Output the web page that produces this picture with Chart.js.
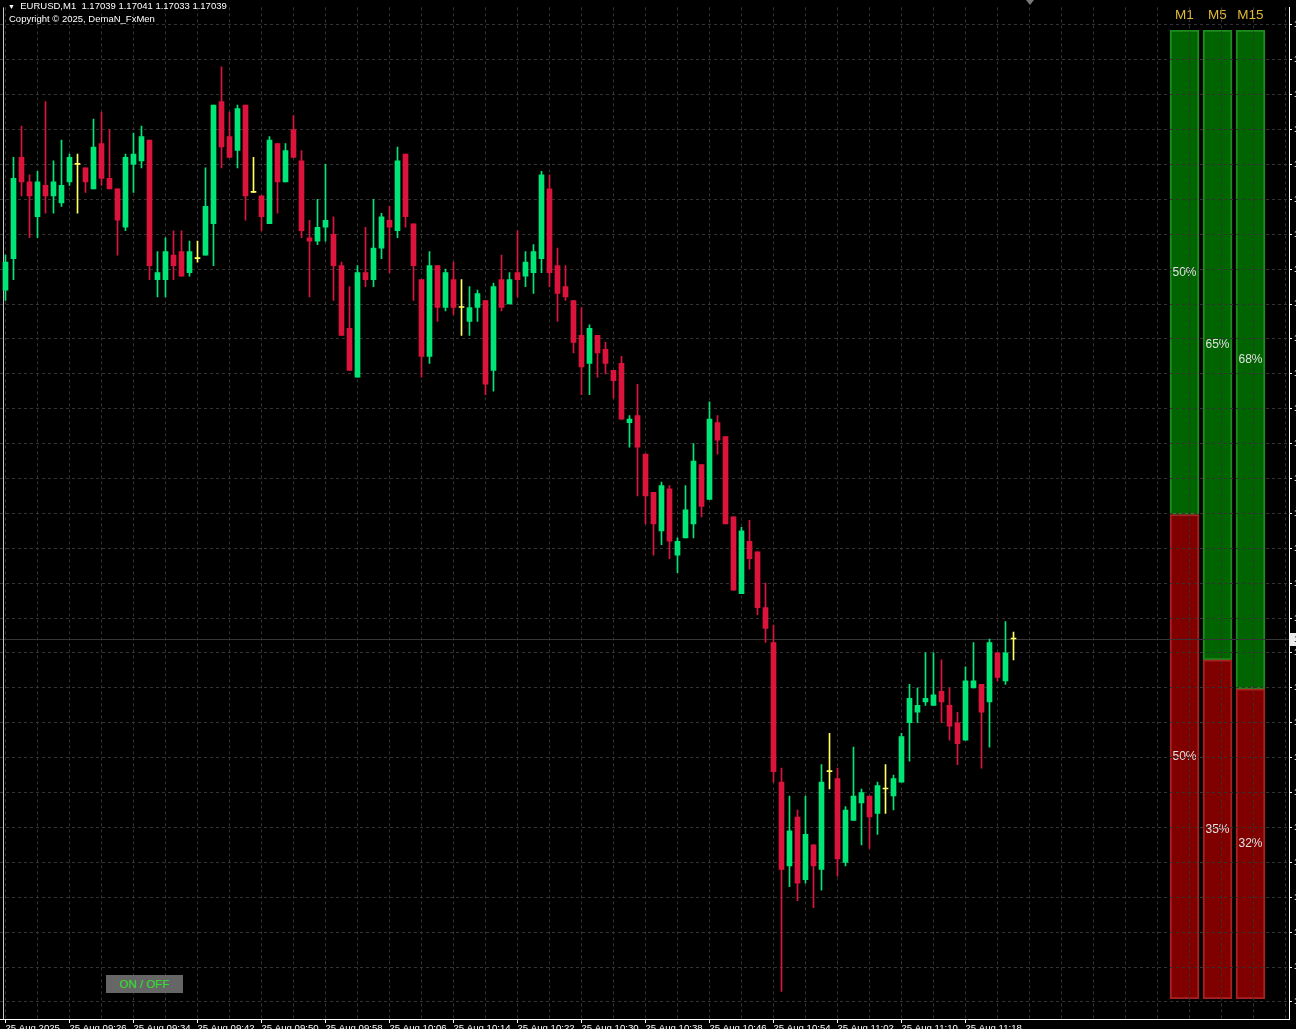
<!DOCTYPE html>
<html>
<head>
<meta charset="utf-8">
<script src="https://cdn.jsdelivr.net/npm/chart.js@4.4.0/dist/chart.umd.min.js"></script>
<style>
  html, body { margin: 0; padding: 0; background: #000; overflow: hidden; width: 1296px; height: 1029px; }
  #wrap { position: relative; width: 1296px; height: 1029px; overflow: hidden; }
  #bars { position: absolute; left: 1168px; top: 0; }
  #main { position: absolute; left: 0; top: 0; }
  .hdr { position: absolute; color: #fff; font: 9.5px 'Liberation Sans', Arial, sans-serif; white-space: pre; line-height: 12px; }
  #btn { position: absolute; left: 106px; top: 975px; width: 77px; height: 18px; background: #666; color: #2ee52e;
         font: 11.5px 'Liberation Sans', Arial, sans-serif; text-align: center; line-height: 18px; }
</style>
</head>
<body>
<div id="wrap">
  <canvas id="bars" width="100" height="999"></canvas>
  <canvas id="main" width="1350" height="1040"></canvas>
  <div class="hdr" style="left:8px;top:0px;"><span style="font-size:7px;">▼</span>  EURUSD,M1  1.17039 1.17041 1.17033 1.17039</div>
  <div class="hdr" style="left:9px;top:13px;">Copyright © 2025, DemaN_FxMen</div>
  <div id="btn">ON / OFF</div>
</div>
<script>
// EURUSD M1, 25 Aug 2025, 09:18 .. 11:24 (one candle per minute)
const opens = [
  1.17139,1.17148,1.17177,1.17170,1.17160,1.17169,1.17166,1.17164,1.17170,1.17175,
  1.17174,1.17168,1.17181,1.17171,1.17168,1.17157,1.17175,1.17176,1.17182,1.17142,
  1.17142,1.17149,1.17150,1.17144,1.17148,1.17149,1.17158,1.17193,1.17183,1.17179,
  1.17192,1.17167,1.17166,1.17158,1.17181,1.17170,1.17185,1.17176,1.17154,1.17153,
  1.17157,1.17155,1.17146,1.17128,1.17114,1.17144,1.17142,1.17151,1.17159,1.17156,
  1.17178,1.17158,1.17142,1.17120,1.17146,1.17134,1.17142,1.17134,1.17130,1.17134,
  1.17136,1.17116,1.17142,1.17135,1.17144,1.17143,1.17144,1.17148,1.17168,1.17146,
  1.17140,1.17136,1.17126,1.17118,1.17126,1.17122,1.17116,1.17118,1.17101,1.17103,
  1.17092,1.17081,1.17070,1.17082,1.17063,1.17068,1.17072,1.17089,1.17079,1.17101,
  1.17097,1.17074,1.17052,1.17067,1.17064,1.17048,1.17038,1.16998,1.16974,1.16988,
  1.16970,1.16980,1.16973,1.17001,1.16999,1.16975,1.16987,1.16992,1.16994,1.16989,
  1.16996,1.16994,1.16998,1.17015,1.17018,1.17021,1.17020,1.17024,1.17020,1.17015,
  1.17010,1.17025,1.17026,1.17021,1.17035,1.17027,1.17039
];
const highs = [
  1.17149,1.17177,1.17186,1.17172,1.17173,1.17193,1.17176,1.17182,1.17178,1.17178,
  1.17174,1.17188,1.17190,1.17185,1.17168,1.17178,1.17184,1.17186,1.17182,1.17150,
  1.17154,1.17156,1.17156,1.17153,1.17153,1.17174,1.17192,1.17203,1.17190,1.17192,
  1.17192,1.17177,1.17166,1.17183,1.17181,1.17181,1.17189,1.17179,1.17159,1.17165,
  1.17175,1.17160,1.17147,1.17140,1.17146,1.17157,1.17165,1.17161,1.17163,1.17180,
  1.17178,1.17158,1.17142,1.17150,1.17146,1.17145,1.17147,1.17142,1.17140,1.17139,
  1.17136,1.17141,1.17149,1.17144,1.17156,1.17150,1.17152,1.17173,1.17172,1.17151,
  1.17146,1.17136,1.17134,1.17129,1.17126,1.17124,1.17116,1.17120,1.17103,1.17112,
  1.17092,1.17081,1.17084,1.17083,1.17068,1.17083,1.17095,1.17089,1.17107,1.17103,
  1.17097,1.17074,1.17071,1.17073,1.17064,1.17055,1.17043,1.17002,1.16994,1.16990,
  1.16994,1.16980,1.17003,1.17012,1.17002,1.16991,1.17008,1.16996,1.16994,1.16998,
  1.17003,1.17000,1.17012,1.17026,1.17025,1.17035,1.17035,1.17033,1.17025,1.17018,
  1.17031,1.17038,1.17026,1.17039,1.17035,1.17044,1.17041
];
const lows = [
  1.17136,1.17142,1.17166,1.17154,1.17154,1.17161,1.17161,1.17163,1.17169,1.17161,
  1.17167,1.17168,1.17169,1.17168,1.17149,1.17156,1.17167,1.17174,1.17142,1.17137,
  1.17137,1.17142,1.17143,1.17143,1.17147,1.17149,1.17146,1.17174,1.17177,1.17174,
  1.17159,1.17167,1.17156,1.17158,1.17161,1.17170,1.17177,1.17154,1.17137,1.17152,
  1.17153,1.17136,1.17126,1.17116,1.17114,1.17140,1.17140,1.17148,1.17144,1.17154,
  1.17157,1.17136,1.17114,1.17118,1.17130,1.17133,1.17132,1.17126,1.17126,1.17130,
  1.17109,1.17110,1.17133,1.17135,1.17137,1.17140,1.17138,1.17144,1.17140,1.17130,
  1.17136,1.17121,1.17109,1.17109,1.17114,1.17115,1.17108,1.17102,1.17094,1.17080,
  1.17072,1.17063,1.17066,1.17062,1.17058,1.17068,1.17068,1.17074,1.17079,1.17092,
  1.17072,1.17053,1.17052,1.17059,1.17046,1.17038,1.16998,1.16938,1.16968,1.16964,
  1.16969,1.16962,1.16967,1.16996,1.16971,1.16974,1.16987,1.16980,1.16979,1.16983,
  1.16989,1.16990,1.16998,1.17004,1.17015,1.17020,1.17020,1.17015,1.17010,1.17003,
  1.17010,1.17025,1.17002,1.17008,1.17027,1.17026,1.17033
];
const closes = [
  1.17147,1.17171,1.17170,1.17166,1.17170,1.17166,1.17170,1.17169,1.17177,1.17175,
  1.17170,1.17180,1.17171,1.17168,1.17159,1.17177,1.17178,1.17183,1.17146,1.17144,
  1.17150,1.17146,1.17143,1.17150,1.17148,1.17163,1.17192,1.17180,1.17177,1.17191,
  1.17166,1.17167,1.17160,1.17182,1.17170,1.17179,1.17177,1.17156,1.17153,1.17157,
  1.17159,1.17146,1.17126,1.17116,1.17144,1.17142,1.17151,1.17160,1.17157,1.17176,
  1.17160,1.17146,1.17120,1.17146,1.17134,1.17144,1.17134,1.17134,1.17134,1.17138,
  1.17112,1.17140,1.17134,1.17142,1.17142,1.17147,1.17150,1.17172,1.17144,1.17138,
  1.17137,1.17124,1.17117,1.17128,1.17121,1.17118,1.17113,1.17102,1.17102,1.17094,
  1.17080,1.17072,1.17083,1.17067,1.17067,1.17076,1.17090,1.17077,1.17102,1.17096,
  1.17072,1.17053,1.17070,1.17062,1.17048,1.17042,1.17001,1.16973,1.16984,1.16969,
  1.16983,1.16974,1.16998,1.17001,1.16976,1.16990,1.16994,1.16995,1.16988,1.16997,
  1.16996,1.16999,1.17011,1.17022,1.17020,1.17022,1.17023,1.17021,1.17014,1.17009,
  1.17027,1.17027,1.17018,1.17038,1.17028,1.17035,1.17039
];

// time axis labels, one every 8 bars
const timeLabels = [
  '25 Aug 2025', '25 Aug 09:26', '25 Aug 09:34', '25 Aug 09:42', '25 Aug 09:50', '25 Aug 09:58',
  '25 Aug 10:06', '25 Aug 10:14', '25 Aug 10:22', '25 Aug 10:30', '25 Aug 10:38', '25 Aug 10:46',
  '25 Aug 10:54', '25 Aug 11:02', '25 Aug 11:10', '25 Aug 11:18'
];
// price axis ticks
const priceTicks = [
  1.17215, 1.17205, 1.17195, 1.17185, 1.17175, 1.17165, 1.17155, 1.17145, 1.17135, 1.17125,
  1.17115, 1.17105, 1.17095, 1.17085, 1.17075, 1.17065, 1.17055, 1.17045, 1.17035, 1.17025,
  1.17015, 1.17005, 1.16995, 1.16985, 1.16975, 1.16965, 1.16955, 1.16945, 1.16935
];
const priceMax = 1.17220;
const priceMin = 1.169301;

// trend strength panel
const tfLabels = ['M1', 'M5', 'M15'];
const buyPct = [50, 65, 68];
const sellPct = [50, 35, 32];

const BULL = '#00e676';
const BEAR = '#dc143c';
const DOJI = '#ffff66';
const GRID = '#333333';
const FONT = "'Liberation Sans', Arial, sans-serif";

const candleColors = opens.map((o, i) => closes[i] > o ? BULL : (closes[i] < o ? BEAR : DOJI));
const bodies = opens.map((o, i) => ({ x: i, y: [Math.min(o, closes[i]), Math.max(o, closes[i])] }));
const wicks = lows.map((l, i) => ({ x: i, y: [l, highs[i]] }));
const lastClose = closes[closes.length - 1];

const overlay = {
  id: 'overlay',
  beforeDatasetsDraw(chart) {
    const { ctx, chartArea } = chart;
    const y = Math.round(chart.scales.y.getPixelForValue(lastClose)) + 0.5;
    ctx.save();
    ctx.strokeStyle = '#363636';
    ctx.lineWidth = 1;
    ctx.beginPath();
    ctx.moveTo(chartArea.left, y);
    ctx.lineTo(chartArea.right, y);
    ctx.stroke();
    ctx.strokeStyle = '#c8c8c8';
    ctx.beginPath();
    ctx.moveTo(3.5, chartArea.top);
    ctx.lineTo(3.5, chartArea.bottom);
    ctx.stroke();
    ctx.restore();
  },
  afterDraw(chart) {
    const { ctx, chartArea } = chart;
    const y = chart.scales.y.getPixelForValue(lastClose);
    ctx.save();
    ctx.fillStyle = '#ececec';
    ctx.fillRect(chartArea.right + 1, Math.round(y) - 6, 50, 13);
    ctx.fillStyle = '#000';
    ctx.font = '9px ' + FONT;
    ctx.textBaseline = 'middle';
    ctx.fillText(lastClose.toFixed(5), chartArea.right + 5, Math.round(y) + 1);
    // chart shift marker
    ctx.fillStyle = '#7a7a7a';
    ctx.beginPath();
    ctx.moveTo(1026, 0);
    ctx.lineTo(1034, 0);
    ctx.lineTo(1030, 5);
    ctx.closePath();
    ctx.fill();
    ctx.restore();
  }
};

new Chart(document.getElementById('main'), {
  type: 'bar',
  data: {
    datasets: [
      { data: bodies, backgroundColor: candleColors, barThickness: 5, minBarLength: 1, grouped: false, borderWidth: 0 },
      { data: wicks, backgroundColor: candleColors, barThickness: 1, grouped: false, borderWidth: 0 }
    ]
  },
  options: {
    responsive: false,
    devicePixelRatio: 1,
    animation: false,
    layout: { padding: 0 },
    plugins: { legend: { display: false }, tooltip: { enabled: false } },
    scales: {
      x: {
        type: 'linear',
        min: -0.6875,
        max: 160.4375,
        bounds: 'data',
        offset: false,
        grid: {
          offset: false,
          color: GRID,
          tickLength: 4,
          tickBorderDash: [],
          tickColor: (c) => (c.tick && c.tick.value % 8 === 0 && c.tick.value / 8 < timeLabels.length) ? '#ffffff' : 'rgba(0,0,0,0)'
        },
        border: { color: '#ffffff', width: 1, dash: [3, 3] },
        afterBuildTicks(axis) {
          const t = [];
          for (let k = 0; k <= 160; k += 4) t.push({ value: k });
          axis.ticks = t;
        },
        afterFit(scale) { scale.height = 21; },
        ticks: {
          autoSkip: false,
          maxRotation: 0,
          align: 'start',
          padding: 0,
          color: '#ffffff',
          font: { family: FONT, size: 9.6 },
          callback: (v) => (v % 8 === 0 && v / 8 < timeLabels.length) ? timeLabels[v / 8] : ''
        }
      },
      y: {
        position: 'right',
        min: priceMin,
        max: priceMax,
        bounds: 'data',
        grid: { color: GRID, tickLength: 3, tickColor: '#ffffff', tickBorderDash: [] },
        border: { color: '#ffffff', width: 1, dash: [3, 3] },
        afterBuildTicks(axis) { axis.ticks = priceTicks.map(v => ({ value: v })); },
        afterFit(scale) { scale.width = 61; },
        ticks: {
          autoSkip: false,
          padding: 2,
          color: '#ffffff',
          font: { family: FONT, size: 9 },
          callback: (v) => Number(v).toFixed(5)
        }
      }
    }
  },
  plugins: [overlay]
});

// percent values inside the bars and timeframe names above them
const panelText = {
  id: 'panelText',
  afterDatasetsDraw(chart) {
    const { ctx } = chart;
    ctx.save();
    ctx.textAlign = 'center';
    ctx.textBaseline = 'middle';
    ctx.fillStyle = '#e2e2e2';
    ctx.font = '12px ' + FONT;
    chart.data.datasets.forEach((ds, di) => {
      chart.getDatasetMeta(di).data.forEach((el, i) => {
        const p = el.getProps(['x', 'y', 'base'], true);
        ctx.fillText(ds.data[i] + '%', p.x, (p.y + p.base) / 2);
      });
    });
    ctx.fillStyle = '#e0b83a';
    ctx.font = '13.5px ' + FONT;
    chart.getDatasetMeta(0).data.forEach((el, i) => {
      ctx.fillText(chart.data.labels[i], el.x, 15);
    });
    ctx.restore();
  }
};

new Chart(document.getElementById('bars'), {
  type: 'bar',
  data: {
    labels: tfLabels,
    datasets: [
      { data: sellPct, backgroundColor: '#800000', borderColor: '#a82222', borderWidth: 2, borderSkipped: false, barThickness: 29 },
      { data: buyPct, backgroundColor: '#006400', borderColor: '#1e8c1e', borderWidth: 2, borderSkipped: false, barThickness: 29 }
    ]
  },
  options: {
    responsive: false,
    devicePixelRatio: 1,
    animation: false,
    layout: { padding: { left: 0, right: 1, top: 0, bottom: 0 } },
    plugins: { legend: { display: false }, tooltip: { enabled: false } },
    scales: {
      x: {
        stacked: true,
        position: 'top',
        grid: { display: false, drawTicks: false },
        border: { display: false },
        afterFit(scale) { scale.height = 30; },
        ticks: { display: false }
      },
      y: { stacked: true, min: 0, max: 100, display: false }
    }
  },
  plugins: [panelText]
});
</script>
</body>
</html>
